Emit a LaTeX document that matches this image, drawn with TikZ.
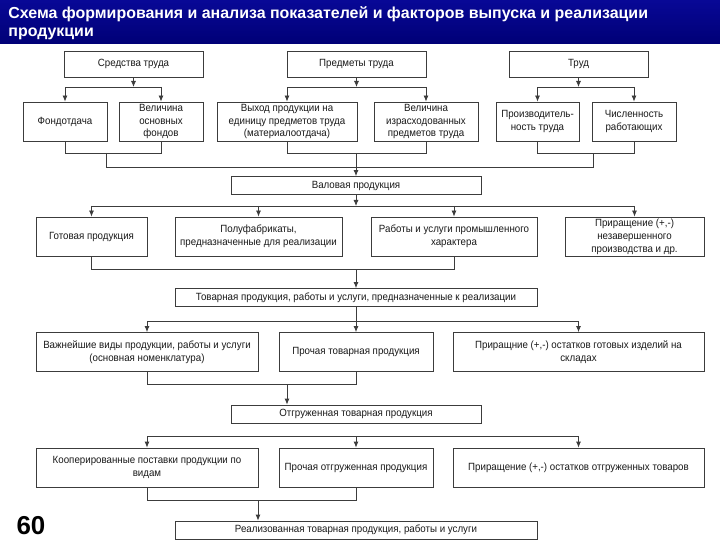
\documentclass[tikz,border=0pt]{standalone}
\usepackage{fontspec}
\setmainfont{Liberation Sans}
\newfontfamily\boxfont{Liberation Sans}[FakeStretch=0.93]
\usepackage{tikz}
\usetikzlibrary{arrows,arrows.meta,positioning,calc}

\definecolor{titleblue}{RGB}{8,8,150}
\definecolor{titledark}{RGB}{0,0,118}
\definecolor{linec}{RGB}{60,60,60}
\definecolor{textc}{RGB}{25,25,25}

\begin{document}
\begin{tikzpicture}[
x=1bp, y=-1bp,
>={Latex[length=6bp,width=5bp]},
line width=0.8bp,
conn/.style={draw=linec},
recnode/.style={rectangle, draw=linec, fill=white, inner sep=1bp, align=center,
  text=textc, font=\boxfont\fontsize{10.5}{13}\selectfont},
headnode/.style={recnode, minimum height=26bp},
rownode/.style={recnode, minimum height=39bp},
barnode/.style={recnode, minimum height=18bp},
]
\useasboundingbox (0,0) rectangle (720,540);
%Title
\shade[top color=titleblue, bottom color=titledark] (0,0) rectangle (720,44);
\node[anchor=north west, inner sep=0, align=left, text=white,
  font=\fontsize{16}{18.5}\selectfont\bfseries] (title) at (8,6)
  {Схема формирования и анализа показателей и факторов выпуска и реализации\\продукции};
\node[font=\fontsize{26}{28}\selectfont\bfseries, text=black] (page) at (31,526) {60};

%Nodes
\node[headnode, minimum width=139bp] (sredstva) at (133.5,64) {Средства труда};
\node[headnode, minimum width=139bp] (predmety) at (356.5,64) {Предметы труда};
\node[headnode, minimum width=139bp] (trud) at (578.5,64) {Труд};

\node[rownode, minimum width=84bp] (fond) at (65,121.5) {Фондотдача};
\node[rownode, minimum width=84bp] (velosn) at (161,121.5) {Величина\\основных\\фондов};
\node[rownode, minimum width=140bp] (vyhod) at (287,121.5) {Выход продукции на\\единицу предметов труда\\(материалоотдача)};
\node[rownode, minimum width=104bp] (velizr) at (426,121.5) {Величина\\израсходованных\\предметов труда};
\node[rownode, minimum width=83bp] (proizv) at (537.5,121.5) {Производитель-\\ность труда};
\node[rownode, minimum width=84bp] (chisl) at (634,121.5) {Численность\\работающих};

\node[barnode, minimum width=250bp] (valovaya) at (356,185.5) {Валовая продукция};

\node[rownode, minimum width=111bp] (gotov) at (91.5,236.5) {Готовая продукция};
\node[rownode, minimum width=167bp] (polufab) at (258.5,236.5) {Полуфабрикаты,\\предназначенные для реализации};
\node[rownode, minimum width=166bp] (raboty) at (454,236.5) {Работы и услуги промышленного\\характера};
\node[rownode, minimum width=139bp] (prirnz) at (634.5,236.5) {Приращение (+,-)\\незавершенного\\производства и др.};

\node[barnode, minimum width=362bp] (tovarnaya) at (356,297.5) {Товарная продукция, работы и услуги, предназначенные к реализации};

\node[rownode, minimum width=222bp] (vazhn) at (147,352) {Важнейшие виды продукции, работы и услуги\\(основная номенклатура)};
\node[rownode, minimum width=154bp] (prochtov) at (356,352) {Прочая товарная продукция};
\node[rownode, minimum width=251bp] (prirgot) at (578.5,352) {Приращние (+,-) остатков готовых изделий на\\складах};

\node[barnode, minimum width=250bp] (otgr) at (356,414) {Отгруженная товарная продукция};

\node[rownode, minimum width=222bp] (koop) at (147,467.5) {Кооперированные поставки продукции по\\видам};
\node[rownode, minimum width=154bp] (prochotgr) at (356,467.5) {Прочая отгруженная продукция};
\node[rownode, minimum width=251bp] (prirotgr) at (578.5,467.5) {Приращение (+,-) остатков отгруженных товаров};

\node[barnode, minimum width=362bp] (realiz) at (356,530) {Реализованная товарная продукция, работы и услуги};

%Levels
\coordinate (lvlA) at (0,87);
\coordinate (lvlB) at (0,153);
\coordinate (busL) at (106,167);
\coordinate (busR) at (593,167);
\coordinate (lvlD) at (0,206);
\coordinate (lvlE) at (0,269);
\coordinate (lvlF) at (0,321);
\coordinate (lvlG) at (0,384);
\coordinate (lvlH) at (0,436);
\coordinate (lvlI) at (0,500);
\coordinate (jA) at (106,153);
\coordinate (jB) at (356,153);
\coordinate (jC) at (593,153);
\coordinate (jE) at (356,269);
\coordinate (jG) at (287,384);
\coordinate (jI) at (258,500);

%Resources
\draw[conn,->] (sredstva.south) -- (sredstva.south |- lvlA);
\draw[conn,->] (velosn.north |- lvlA) -| (fond.north);
\draw[conn,->] (velosn.north |- lvlA) -- (velosn.north);
\draw[conn,->] (predmety.south) -- (predmety.south |- lvlA);
\draw[conn,->] (velizr.north |- lvlA) -| (vyhod.north);
\draw[conn,->] (velizr.north |- lvlA) -- (velizr.north);
\draw[conn,->] (trud.south) -- (trud.south |- lvlA);
\draw[conn,->] (chisl.north |- lvlA) -| (proizv.north);
\draw[conn,->] (chisl.north |- lvlA) -- (chisl.north);

\draw[conn] (fond.south) |- (velosn.south |- lvlB) -- (velosn.south);
\draw[conn] (vyhod.south) |- (velizr.south |- lvlB) -- (velizr.south);
\draw[conn] (proizv.south) |- (chisl.south |- lvlB) -- (chisl.south);
\draw[conn] (jA) -- (busL) -- (busR) -- (jC);
\draw[conn,->] (jB) -- (valovaya.north);

%Gross output
\draw[conn,->] (valovaya.south) -- (valovaya.south |- lvlD);
\draw[conn] (gotov.north |- lvlD) -- (prirnz.north |- lvlD);
\foreach \n in {gotov,polufab,raboty,prirnz}
  \draw[conn,->] (\n.north |- lvlD) -- (\n.north);
\draw[conn] (gotov.south) |- (raboty.south |- lvlE) -- (raboty.south);
\draw[conn,->] (jE) -- (tovarnaya.north);

%Commodity output
\draw[conn,->] (tovarnaya.south) -- (prochtov.north);
\draw[conn] (vazhn.north |- lvlF) -- (prirgot.north |- lvlF);
\draw[conn,->] (vazhn.north |- lvlF) -- (vazhn.north);
\draw[conn,->] (prirgot.north |- lvlF) -- (prirgot.north);
\draw[conn] (vazhn.south) |- (prochtov.south |- lvlG) -- (prochtov.south);
\draw[conn,->] (jG) -- (otgr.north -| jG);

%Shipped output
\draw[conn] (koop.north |- lvlH) -- (prirotgr.north |- lvlH);
\foreach \n in {koop,prochotgr,prirotgr}
  \draw[conn,->] (\n.north |- lvlH) -- (\n.north);
\draw[conn] (koop.south) |- (prochotgr.south |- lvlI) -- (prochotgr.south);
\draw[conn,->] (jI) -- (realiz.north -| jI);
\end{tikzpicture}
\end{document}
